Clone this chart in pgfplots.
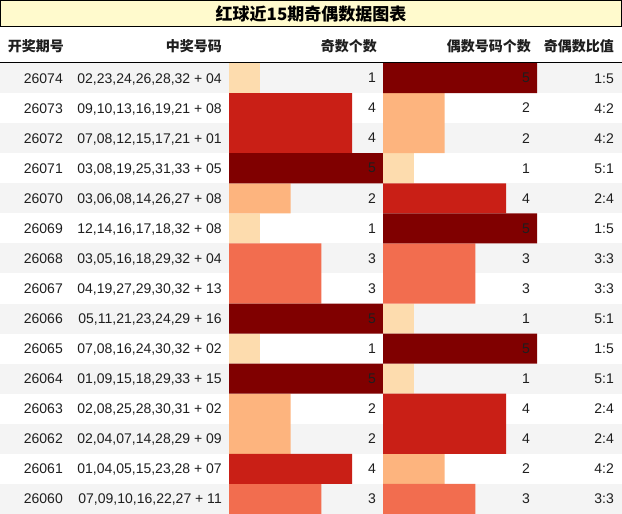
\documentclass[border=0pt]{standalone}
\usepackage{pgfplots}
\pgfplotsset{compat=1.18}
\usepackage{pgfplotstable}
\usepackage{fontspec}
\setmainfont{Liberation Sans}
\newfontfamily\cjk{Noto Sans CJK SC}
\definecolor{c1}{HTML}{FDDCAE}
\definecolor{c2}{HTML}{FDB47E}
\definecolor{c3}{HTML}{F26D4F}
\definecolor{c4}{HTML}{C91F16}
\definecolor{c5}{HTML}{800000}
\definecolor{rowgray}{HTML}{F4F4F4}
\definecolor{titlebg}{HTML}{FFFACD}
\definecolor{txt}{HTML}{1E1E1E}

\pgfplotstableread{
row odd even
1 1 5
2 4 2
3 4 2
4 5 1
5 2 4
6 1 5
7 3 3
8 3 3
9 5 1
10 1 5
11 5 1
12 2 4
13 2 4
14 4 2
15 3 3
}\oddeven

\pgfplotsset{
  barcol/.style={scale only axis, width=154pt, height=451pt, anchor=north west,
    xmin=0, xmax=5, ymin=0.5, ymax=15.5, y dir=reverse, hide axis, clip=false,
    bar width=1, bar shift=0pt},
  numlab/.style={draw=none, nodes near coords, point meta=explicit symbolic,
    every node near coord/.append style={anchor=east, xshift=-7pt, inner sep=0pt,
      font=\fontsize{14}{16}\selectfont, text=txt}},
}

\begin{document}
\begin{tikzpicture}
\path[use as bounding box] (0pt,0pt) rectangle (622pt,-514pt);
\begin{scope}[x=1pt,y=1pt]
  \foreach \i in {0,2,...,14}
    \fill[rowgray] (0,{-63-\i*30.0667}) rectangle (622,{-63-(\i+1)*30.0667});
\end{scope}

\begin{axis}[barcol, at={(229pt,-63pt)}]
\addplot[xbar, fill=c1, draw=none, restrict x to domain=0.5:1.5] table[x=odd,y=row]{\oddeven};
\addplot[xbar, fill=c2, draw=none, restrict x to domain=1.5:2.5] table[x=odd,y=row]{\oddeven};
\addplot[xbar, fill=c3, draw=none, restrict x to domain=2.5:3.5] table[x=odd,y=row]{\oddeven};
\addplot[xbar, fill=c4, draw=none, restrict x to domain=3.5:4.5] table[x=odd,y=row]{\oddeven};
\addplot[xbar, fill=c5, draw=none, restrict x to domain=4.5:5.5] table[x=odd,y=row]{\oddeven};
\addplot[numlab] table[x expr=5, y=row, meta=odd]{\oddeven};
\end{axis}

\begin{axis}[barcol, at={(383pt,-63pt)}]
\addplot[xbar, fill=c1, draw=none, restrict x to domain=0.5:1.5] table[x=even,y=row]{\oddeven};
\addplot[xbar, fill=c2, draw=none, restrict x to domain=1.5:2.5] table[x=even,y=row]{\oddeven};
\addplot[xbar, fill=c3, draw=none, restrict x to domain=2.5:3.5] table[x=even,y=row]{\oddeven};
\addplot[xbar, fill=c4, draw=none, restrict x to domain=3.5:4.5] table[x=even,y=row]{\oddeven};
\addplot[xbar, fill=c5, draw=none, restrict x to domain=4.5:5.5] table[x=even,y=row]{\oddeven};
\addplot[numlab] table[x expr=5, y=row, meta=even]{\oddeven};
\end{axis}

\begin{scope}[x=1pt,y=1pt]
  % title
  \draw[fill=titlebg, line width=1.4pt] (0.7,-0.7) rectangle (621.3,-26.3);
  \node[text=black] at (311,-13.8) {\cjk\bfseries\fontsize{17}{20}\selectfont 红球近15期奇偶数据图表};
  % header
  \draw[line width=1.4pt] (0,-62.3) -- (622,-62.3);
  \begin{scope}[every node/.style={anchor=east, inner sep=0pt, text=txt, font=\cjk\bfseries\fontsize{14}{16}\selectfont}]
    \node at (64,-46) {开奖期号};
    \node at (222,-46) {中奖号码};
    \node at (377,-46) {奇数个数};
    \node at (531,-46) {偶数号码个数};
    \node at (614,-46) {奇偶数比值};
  \end{scope}
  % rows
  \begin{scope}[every node/.style={anchor=east, inner sep=0pt, text=txt, font=\fontsize{14}{16}\selectfont}]
  \foreach \p/\n/\r [count=\i] in {
    26074/{02,23,24,26,28,32 + 04}/1:5,
    26073/{09,10,13,16,19,21 + 08}/4:2,
    26072/{07,08,12,15,17,21 + 01}/4:2,
    26071/{03,08,19,25,31,33 + 05}/5:1,
    26070/{03,06,08,14,26,27 + 08}/2:4,
    26069/{12,14,16,17,18,32 + 08}/1:5,
    26068/{03,05,16,18,29,32 + 04}/3:3,
    26067/{04,19,27,29,30,32 + 13}/3:3,
    26066/{05,11,21,23,24,29 + 16}/5:1,
    26065/{07,08,16,24,30,32 + 02}/1:5,
    26064/{01,09,15,18,29,33 + 15}/5:1,
    26063/{02,08,25,28,30,31 + 02}/2:4,
    26062/{02,04,07,14,28,29 + 09}/2:4,
    26061/{01,04,05,15,23,28 + 07}/4:2,
    26060/{07,09,10,16,22,27 + 11}/3:3}{
    \node[anchor=base east] at (63,{-63-(\i-0.5)*30.0667-5}) {\p};
    \node[anchor=base east] at (222,{-63-(\i-0.5)*30.0667-5}) {\n};
    \node[anchor=base east] at (614,{-63-(\i-0.5)*30.0667-5}) {\r};
  }
  \end{scope}
\end{scope}
\end{tikzpicture}
\end{document}
